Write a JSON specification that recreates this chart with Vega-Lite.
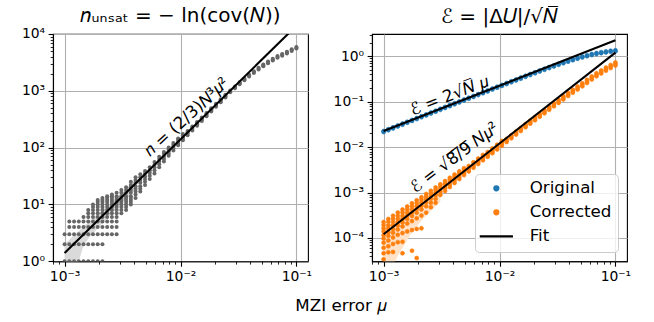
{
  "$schema": "https://vega.github.io/schema/vega-lite/v6.json",
  "padding": {"left": 20, "top": 5, "right": 0, "bottom": 0},
  "config": {
    "font": "DejaVu Sans",
    "view": {"stroke": "black", "strokeWidth": 1.1},
    "axis": {"domainColor": "black", "domainWidth": 1.1, "tickColor": "black", "labelColor": "black", "labelFont": "DejaVu Sans", "labelFontSize": 13.9, "labelPadding": 3.5, "labelFlush": false, "labelOverlap": false, "gridColor": "#b0b0b0", "gridWidth": 1.1},
    "title": {"font": "DejaVu Sans", "fontWeight": "normal", "color": "black"},
    "text": {"font": "DejaVu Sans", "color": "black"}
  },
  "title": {"text": "MZI error 𝜇", "orient": "bottom", "anchor": "middle", "frame": "group", "dx": 287.7, "fontSize": 16.7, "offset": 14},
  "spacing": 64,
  "bounds": "flush",
  "resolve": {"scale": {"color": "independent", "shape": "independent", "stroke": "independent"}, "legend": {"color": "independent", "shape": "independent", "stroke": "independent"}},
  "datasets": {
    "gray": [
      {"m":0.001,"v":1},{"m":0.001,"v":2},{"m":0.001,"v":3},
      {"m":0.0010985,"v":1},{"m":0.0010985,"v":2},{"m":0.0010985,"v":3},{"m":0.0010985,"v":4},{"m":0.0010985,"v":5},
      {"m":0.0012068,"v":1},{"m":0.0012068,"v":2},{"m":0.0012068,"v":3},{"m":0.0012068,"v":4},{"m":0.0012068,"v":5},
      {"m":0.0013257,"v":1},{"m":0.0013257,"v":2},{"m":0.0013257,"v":3},{"m":0.0013257,"v":4},{"m":0.0013257,"v":5},
      {"m":0.0014563,"v":1},{"m":0.0014563,"v":2},{"m":0.0014563,"v":3},{"m":0.0014563,"v":4},{"m":0.0014563,"v":5},{"m":0.0014563,"v":6},
      {"m":0.0016,"v":1},{"m":0.0016,"v":2},{"m":0.0016,"v":3},{"m":0.0016,"v":4},{"m":0.0016,"v":5},{"m":0.0016,"v":6},{"m":0.0016,"v":7},{"m":0.0016,"v":8},
      {"m":0.0017575,"v":1},{"m":0.0017575,"v":2},{"m":0.0017575,"v":3},{"m":0.0017575,"v":4},{"m":0.0017575,"v":5},{"m":0.0017575,"v":6},{"m":0.0017575,"v":7},{"m":0.0017575,"v":8},{"m":0.0017575,"v":9},{"m":0.0017575,"v":10},
      {"m":0.0019307,"v":1},{"m":0.0019307,"v":2},{"m":0.0019307,"v":3},{"m":0.0019307,"v":4},{"m":0.0019307,"v":5},{"m":0.0019307,"v":6},{"m":0.0019307,"v":7},{"m":0.0019307,"v":8},{"m":0.0019307,"v":9},{"m":0.0019307,"v":10},{"m":0.0019307,"v":11},{"m":0.0019307,"v":12},
      {"m":0.002121,"v":1},{"m":0.002121,"v":2},{"m":0.002121,"v":3},{"m":0.002121,"v":4},{"m":0.002121,"v":5},{"m":0.002121,"v":6},{"m":0.002121,"v":7},{"m":0.002121,"v":8},{"m":0.002121,"v":9},{"m":0.002121,"v":10},{"m":0.002121,"v":11},{"m":0.002121,"v":12},{"m":0.002121,"v":13},
      {"m":0.00233,"v":3},{"m":0.00233,"v":4},{"m":0.00233,"v":5},{"m":0.00233,"v":6},{"m":0.00233,"v":7},{"m":0.00233,"v":8},{"m":0.00233,"v":9},{"m":0.00233,"v":10},{"m":0.00233,"v":11},{"m":0.00233,"v":12},{"m":0.00233,"v":13},{"m":0.00233,"v":14},
      {"m":0.0025595,"v":3},{"m":0.0025595,"v":4},{"m":0.0025595,"v":5},{"m":0.0025595,"v":6},{"m":0.0025595,"v":7},{"m":0.0025595,"v":8},{"m":0.0025595,"v":9},{"m":0.0025595,"v":10},{"m":0.0025595,"v":11},{"m":0.0025595,"v":12},{"m":0.0025595,"v":13},{"m":0.0025595,"v":14},{"m":0.0025595,"v":15},
      {"m":0.0028118,"v":3},{"m":0.0028118,"v":4},{"m":0.0028118,"v":5},{"m":0.0028118,"v":6},{"m":0.0028118,"v":7},{"m":0.0028118,"v":8},{"m":0.0028118,"v":9},{"m":0.0028118,"v":10},{"m":0.0028118,"v":11},{"m":0.0028118,"v":12},{"m":0.0028118,"v":13},{"m":0.0028118,"v":14},{"m":0.0028118,"v":16},
      {"m":0.0030888,"v":7},{"m":0.0030888,"v":8},{"m":0.0030888,"v":9},{"m":0.0030888,"v":10},{"m":0.0030888,"v":11},{"m":0.0030888,"v":12},{"m":0.0030888,"v":13},{"m":0.0030888,"v":14},{"m":0.0030888,"v":16},{"m":0.0030888,"v":18},
      {"m":0.0033932,"v":8},{"m":0.0033932,"v":9},{"m":0.0033932,"v":10},{"m":0.0033932,"v":11},{"m":0.0033932,"v":12},{"m":0.0033932,"v":13},{"m":0.0033932,"v":14},{"m":0.0033932,"v":16},{"m":0.0033932,"v":18},{"m":0.0033932,"v":20},
      {"m":0.0037276,"v":10},{"m":0.0037276,"v":11},{"m":0.0037276,"v":12},{"m":0.0037276,"v":13},{"m":0.0037276,"v":14},{"m":0.0037276,"v":16},{"m":0.0037276,"v":18},{"m":0.0037276,"v":20},{"m":0.0037276,"v":22},{"m":0.0037276,"v":25},
      {"m":0.0040949,"v":13},{"m":0.0040949,"v":15},{"m":0.0040949,"v":17},{"m":0.0040949,"v":19},{"m":0.0040949,"v":21},{"m":0.0040949,"v":24},{"m":0.0040949,"v":27},{"m":0.0040949,"v":30},
      {"m":0.0044984,"v":17},{"m":0.0044984,"v":19},{"m":0.0044984,"v":21},{"m":0.0044984,"v":24},{"m":0.0044984,"v":27},{"m":0.0044984,"v":30},{"m":0.0044984,"v":34},
      {"m":0.0049417,"v":22},{"m":0.0049417,"v":25},{"m":0.0049417,"v":28},{"m":0.0049417,"v":31},{"m":0.0049417,"v":35},{"m":0.0049417,"v":39},
      {"m":0.0054287,"v":28},{"m":0.0054287,"v":32},{"m":0.0054287,"v":36},{"m":0.0054287,"v":40},{"m":0.0054287,"v":45},
      {"m":0.0059636,"v":35},{"m":0.0059636,"v":40},{"m":0.0059636,"v":45},{"m":0.0059636,"v":50},{"m":0.0059636,"v":56},
      {"m":0.0065513,"v":45},{"m":0.0065513,"v":51},{"m":0.0065513,"v":57},{"m":0.0065513,"v":63},{"m":0.0065513,"v":69},
      {"m":0.0071969,"v":57},{"m":0.0071969,"v":63},{"m":0.0071969,"v":70},{"m":0.0071969,"v":77},{"m":0.0071969,"v":84},
      {"m":0.007906,"v":72},{"m":0.007906,"v":79},{"m":0.007906,"v":86},{"m":0.007906,"v":94},{"m":0.007906,"v":101},
      {"m":0.0086851,"v":89},{"m":0.0086851,"v":97},{"m":0.0086851,"v":105},{"m":0.0086851,"v":113},{"m":0.0086851,"v":121},
      {"m":0.009541,"v":110},{"m":0.009541,"v":118},{"m":0.009541,"v":127},{"m":0.009541,"v":136},{"m":0.009541,"v":145},
      {"m":0.010481,"v":135},{"m":0.010481,"v":145},{"m":0.010481,"v":154},{"m":0.010481,"v":164},{"m":0.010481,"v":174},
      {"m":0.011514,"v":166},{"m":0.011514,"v":176},{"m":0.011514,"v":186},{"m":0.011514,"v":197},
      {"m":0.012649,"v":200},{"m":0.012649,"v":212},{"m":0.012649,"v":224},{"m":0.012649,"v":236},
      {"m":0.013895,"v":244},{"m":0.013895,"v":257},{"m":0.013895,"v":270},{"m":0.013895,"v":283},
      {"m":0.015264,"v":295},{"m":0.015264,"v":310},{"m":0.015264,"v":325},{"m":0.015264,"v":340},
      {"m":0.016768,"v":358},{"m":0.016768,"v":375},{"m":0.016768,"v":392},{"m":0.016768,"v":408},
      {"m":0.018421,"v":432},{"m":0.018421,"v":452},{"m":0.018421,"v":472},{"m":0.018421,"v":492},
      {"m":0.020236,"v":525},{"m":0.020236,"v":548},{"m":0.020236,"v":570},{"m":0.020236,"v":592},
      {"m":0.02223,"v":632},{"m":0.02223,"v":660},{"m":0.02223,"v":688},{"m":0.02223,"v":712},
      {"m":0.024421,"v":760},{"m":0.024421,"v":792},{"m":0.024421,"v":822},{"m":0.024421,"v":850},
      {"m":0.026827,"v":940},{"m":0.026827,"v":975},{"m":0.026827,"v":1010},
      {"m":0.029471,"v":1110},{"m":0.029471,"v":1150},{"m":0.029471,"v":1190},
      {"m":0.032375,"v":1310},{"m":0.032375,"v":1360},{"m":0.032375,"v":1410},
      {"m":0.035565,"v":1530},{"m":0.035565,"v":1590},{"m":0.035565,"v":1650},
      {"m":0.039069,"v":1790},{"m":0.039069,"v":1855},{"m":0.039069,"v":1920},
      {"m":0.042919,"v":2060},{"m":0.042919,"v":2135},{"m":0.042919,"v":2210},
      {"m":0.047149,"v":2370},{"m":0.047149,"v":2455},{"m":0.047149,"v":2540},
      {"m":0.051795,"v":2720},{"m":0.051795,"v":2810},{"m":0.051795,"v":2900},
      {"m":0.056899,"v":3060},{"m":0.056899,"v":3165},{"m":0.056899,"v":3270},
      {"m":0.062506,"v":3430},{"m":0.062506,"v":3550},{"m":0.062506,"v":3670},
      {"m":0.068665,"v":3820},{"m":0.068665,"v":3955},{"m":0.068665,"v":4090},
      {"m":0.075431,"v":4150},{"m":0.075431,"v":4295},{"m":0.075431,"v":4440},
      {"m":0.082864,"v":4550},{"m":0.082864,"v":4705},{"m":0.082864,"v":4860},
      {"m":0.09103,"v":5040},{"m":0.09103,"v":5210},{"m":0.09103,"v":5380},
      {"m":0.1,"v":5540},{"m":0.1,"v":5730},{"m":0.1,"v":5920}
    ],
    "bandL": [
      {"m":0.001,"v":0.5,"v2":2.0},{"m":0.0010985,"v":0.6,"v2":2.4},{"m":0.0012068,"v":0.8,"v2":2.9},{"m":0.0013257,"v":1.0,"v2":3.4},
      {"m":0.0014563,"v":1.9,"v2":4.0},{"m":0.0016,"v":2.5,"v2":4.8},{"m":0.0017575,"v":3.1,"v2":5.7},{"m":0.0019307,"v":3.8,"v2":6.8},
      {"m":0.002121,"v":4.7,"v2":8.0},{"m":0.00233,"v":5.7,"v2":9.4},{"m":0.0025595,"v":7.0,"v2":11.2},{"m":0.0028118,"v":8.6,"v2":13.3},
      {"m":0.0030888,"v":10.5,"v2":15.8},{"m":0.0033932,"v":12.8,"v2":19},{"m":0.0037276,"v":15.5,"v2":23},{"m":0.0040949,"v":19,"v2":28}
    ],
    "fitL": [{"m":0.001,"v":1.398},{"m":0.1,"v":13980}],
    "bandR": [
      {"m":0.001,"v":1.0e-5,"v2":1.6e-4},{"m":0.0010985,"v":1.5e-5,"v2":1.9e-4},{"m":0.0012068,"v":2.5e-5,"v2":2.3e-4},{"m":0.0013257,"v":4.0e-5,"v2":2.7e-4},
      {"m":0.0014563,"v":6.0e-5,"v2":3.2e-4},{"m":0.0016,"v":9.0e-5,"v2":3.8e-4},{"m":0.0017575,"v":1.3e-4,"v2":4.5e-4},{"m":0.0019307,"v":1.8e-4,"v2":5.4e-4},
      {"m":0.002121,"v":2.4e-4,"v2":6.5e-4},{"m":0.00233,"v":3.1e-4,"v2":7.8e-4},{"m":0.0025595,"v":4.0e-4,"v2":9.3e-4},{"m":0.0028118,"v":5.0e-4,"v2":1.1e-3},
      {"m":0.0030888,"v":6.3e-4,"v2":1.3e-3}
    ],
    "pts": [
      {"m":0.001,"v":0.0226,"s":"O"},{"m":0.001,"v":0.0215,"s":"O"},
      {"m":0.0010985,"v":0.0249,"s":"O"},{"m":0.0010985,"v":0.0236,"s":"O"},
      {"m":0.0012068,"v":0.0273,"s":"O"},{"m":0.0012068,"v":0.0259,"s":"O"},
      {"m":0.0013257,"v":0.03,"s":"O"},{"m":0.0013257,"v":0.0285,"s":"O"},
      {"m":0.0014563,"v":0.033,"s":"O"},{"m":0.0014563,"v":0.0313,"s":"O"},
      {"m":0.0016,"v":0.0362,"s":"O"},{"m":0.0016,"v":0.0344,"s":"O"},
      {"m":0.0017575,"v":0.0398,"s":"O"},{"m":0.0017575,"v":0.0378,"s":"O"},
      {"m":0.0019307,"v":0.0437,"s":"O"},{"m":0.0019307,"v":0.0415,"s":"O"},
      {"m":0.002121,"v":0.048,"s":"O"},{"m":0.002121,"v":0.0456,"s":"O"},
      {"m":0.00233,"v":0.0527,"s":"O"},{"m":0.00233,"v":0.0501,"s":"O"},
      {"m":0.0025595,"v":0.0579,"s":"O"},{"m":0.0025595,"v":0.055,"s":"O"},
      {"m":0.0028118,"v":0.0636,"s":"O"},{"m":0.0028118,"v":0.0604,"s":"O"},
      {"m":0.0030888,"v":0.0699,"s":"O"},{"m":0.0030888,"v":0.0664,"s":"O"},
      {"m":0.0033932,"v":0.0768,"s":"O"},{"m":0.0033932,"v":0.073,"s":"O"},
      {"m":0.0037276,"v":0.0844,"s":"O"},{"m":0.0037276,"v":0.0801,"s":"O"},
      {"m":0.0040949,"v":0.0927,"s":"O"},{"m":0.0040949,"v":0.088,"s":"O"},
      {"m":0.0044984,"v":0.1017,"s":"O"},{"m":0.0044984,"v":0.0966,"s":"O"},
      {"m":0.0049417,"v":0.1116,"s":"O"},{"m":0.0049417,"v":0.106,"s":"O"},
      {"m":0.0054287,"v":0.1226,"s":"O"},{"m":0.0054287,"v":0.1165,"s":"O"},
      {"m":0.0059636,"v":0.1347,"s":"O"},{"m":0.0059636,"v":0.128,"s":"O"},
      {"m":0.0065513,"v":0.1478,"s":"O"},{"m":0.0065513,"v":0.1404,"s":"O"},
      {"m":0.0071969,"v":0.1623,"s":"O"},{"m":0.0071969,"v":0.1542,"s":"O"},
      {"m":0.007906,"v":0.1782,"s":"O"},{"m":0.007906,"v":0.1693,"s":"O"},
      {"m":0.0086851,"v":0.1956,"s":"O"},{"m":0.0086851,"v":0.1858,"s":"O"},
      {"m":0.009541,"v":0.2147,"s":"O"},{"m":0.009541,"v":0.204,"s":"O"},
      {"m":0.010481,"v":0.2355,"s":"O"},{"m":0.010481,"v":0.2237,"s":"O"},
      {"m":0.011514,"v":0.2584,"s":"O"},{"m":0.011514,"v":0.2455,"s":"O"},
      {"m":0.012649,"v":0.2833,"s":"O"},{"m":0.012649,"v":0.2691,"s":"O"},
      {"m":0.013895,"v":0.3106,"s":"O"},{"m":0.013895,"v":0.2951,"s":"O"},
      {"m":0.015264,"v":0.3403,"s":"O"},{"m":0.015264,"v":0.3233,"s":"O"},
      {"m":0.016768,"v":0.3727,"s":"O"},{"m":0.016768,"v":0.3541,"s":"O"},
      {"m":0.018421,"v":0.408,"s":"O"},{"m":0.018421,"v":0.3876,"s":"O"},
      {"m":0.020236,"v":0.4462,"s":"O"},{"m":0.020236,"v":0.4239,"s":"O"},
      {"m":0.02223,"v":0.4876,"s":"O"},{"m":0.02223,"v":0.4632,"s":"O"},
      {"m":0.024421,"v":0.5322,"s":"O"},{"m":0.024421,"v":0.5056,"s":"O"},
      {"m":0.026827,"v":0.5802,"s":"O"},{"m":0.026827,"v":0.5512,"s":"O"},
      {"m":0.029471,"v":0.6315,"s":"O"},{"m":0.029471,"v":0.5999,"s":"O"},
      {"m":0.032375,"v":0.6861,"s":"O"},{"m":0.032375,"v":0.6518,"s":"O"},
      {"m":0.035565,"v":0.7438,"s":"O"},{"m":0.035565,"v":0.7066,"s":"O"},
      {"m":0.039069,"v":0.8045,"s":"O"},{"m":0.039069,"v":0.7643,"s":"O"},
      {"m":0.042919,"v":0.8676,"s":"O"},{"m":0.042919,"v":0.8242,"s":"O"},
      {"m":0.047149,"v":0.9318,"s":"O"},{"m":0.047149,"v":0.8852,"s":"O"},
      {"m":0.051795,"v":0.9969,"s":"O"},{"m":0.051795,"v":0.9471,"s":"O"},
      {"m":0.056899,"v":1.0617,"s":"O"},{"m":0.056899,"v":1.0086,"s":"O"},
      {"m":0.062506,"v":1.1246,"s":"O"},{"m":0.062506,"v":1.0684,"s":"O"},
      {"m":0.068665,"v":1.1841,"s":"O"},{"m":0.068665,"v":1.1249,"s":"O"},
      {"m":0.075431,"v":1.2388,"s":"O"},{"m":0.075431,"v":1.1769,"s":"O"},
      {"m":0.082864,"v":1.2868,"s":"O"},{"m":0.082864,"v":1.2225,"s":"O"},
      {"m":0.09103,"v":1.3269,"s":"O"},{"m":0.09103,"v":1.2606,"s":"O"},
      {"m":0.1,"v":1.3587,"s":"O"},{"m":0.1,"v":1.2908,"s":"O"},
      {"m":0.001,"v":2.23e-4,"s":"C"},{"m":0.001,"v":1.93e-4,"s":"C"},{"m":0.001,"v":1.63e-4,"s":"C"},{"m":0.001,"v":1.39e-4,"s":"C"},{"m":0.001,"v":1.15e-4,"s":"C"},{"m":0.001,"v":9.66e-5,"s":"C"},{"m":0.001,"v":7.85e-5,"s":"C"},{"m":0.001,"v":6.04e-5,"s":"C"},{"m":0.001,"v":4.59e-5,"s":"C"},{"m":0.001,"v":3.38e-5,"s":"C"},
      {"m":0.0010985,"v":2.62e-4,"s":"C"},{"m":0.0010985,"v":2.26e-4,"s":"C"},{"m":0.0010985,"v":1.89e-4,"s":"C"},{"m":0.0010985,"v":1.6e-4,"s":"C"},{"m":0.0010985,"v":1.34e-4,"s":"C"},{"m":0.0010985,"v":1.11e-4,"s":"C"},{"m":0.0010985,"v":8.74e-5,"s":"C"},{"m":0.0010985,"v":6.55e-5,"s":"C"},{"m":0.0010985,"v":4.81e-5,"s":"C"},
      {"m":0.0012068,"v":3.08e-4,"s":"C"},{"m":0.0012068,"v":2.64e-4,"s":"C"},{"m":0.0012068,"v":2.23e-4,"s":"C"},{"m":0.0012068,"v":1.88e-4,"s":"C"},{"m":0.0012068,"v":1.58e-4,"s":"C"},{"m":0.0012068,"v":1.3e-4,"s":"C"},{"m":0.0012068,"v":1.02e-4,"s":"C"},{"m":0.0012068,"v":7.38e-5,"s":"C"},{"m":0.0012068,"v":4.92e-5,"s":"C"},
      {"m":0.0013257,"v":3.61e-4,"s":"C"},{"m":0.0013257,"v":3.08e-4,"s":"C"},{"m":0.0013257,"v":2.63e-4,"s":"C"},{"m":0.0013257,"v":2.23e-4,"s":"C"},{"m":0.0013257,"v":1.87e-4,"s":"C"},{"m":0.0013257,"v":1.53e-4,"s":"C"},{"m":0.0013257,"v":1.17e-4,"s":"C"},{"m":0.0013257,"v":8.06e-5,"s":"C"},
      {"m":0.0014563,"v":4.22e-4,"s":"C"},{"m":0.0014563,"v":3.64e-4,"s":"C"},{"m":0.0014563,"v":3.07e-4,"s":"C"},{"m":0.0014563,"v":2.61e-4,"s":"C"},{"m":0.0014563,"v":2.2e-4,"s":"C"},{"m":0.0014563,"v":1.79e-4,"s":"C"},{"m":0.0014563,"v":1.28e-4,"s":"C"},{"m":0.0014563,"v":8.19e-5,"s":"C"},{"m":0.0014563,"v":4.61e-5,"s":"C"},
      {"m":0.0016,"v":4.94e-4,"s":"C"},{"m":0.0016,"v":4.26e-4,"s":"C"},{"m":0.0016,"v":3.65e-4,"s":"C"},{"m":0.0016,"v":3.09e-4,"s":"C"},{"m":0.0016,"v":2.6e-4,"s":"C"},{"m":0.0016,"v":2.07e-4,"s":"C"},{"m":0.0016,"v":1.39e-4,"s":"C"},
      {"m":0.0017575,"v":5.78e-4,"s":"C"},{"m":0.0017575,"v":5.0e-4,"s":"C"},{"m":0.0017575,"v":4.29e-4,"s":"C"},{"m":0.0017575,"v":3.65e-4,"s":"C"},{"m":0.0017575,"v":3.06e-4,"s":"C"},{"m":0.0017575,"v":2.35e-4,"s":"C"},{"m":0.0017575,"v":1.49e-4,"s":"C"},{"m":0.0017575,"v":5.22e-5,"s":"C"},
      {"m":0.0019307,"v":6.75e-4,"s":"C"},{"m":0.0019307,"v":5.85e-4,"s":"C"},{"m":0.0019307,"v":5.04e-4,"s":"C"},{"m":0.0019307,"v":4.32e-4,"s":"C"},{"m":0.0019307,"v":3.6e-4,"s":"C"},{"m":0.0019307,"v":2.7e-4,"s":"C"},{"m":0.0019307,"v":1.58e-4,"s":"C"},{"m":0.0019307,"v":3.6e-5,"s":"C"},
      {"m":0.002121,"v":7.87e-4,"s":"C"},{"m":0.002121,"v":6.9e-4,"s":"C"},{"m":0.002121,"v":5.97e-4,"s":"C"},{"m":0.002121,"v":5.1e-4,"s":"C"},{"m":0.002121,"v":4.24e-4,"s":"C"},{"m":0.002121,"v":3.1e-4,"s":"C"},{"m":0.002121,"v":1.63e-4,"s":"C"},
      {"m":0.00233,"v":9.31e-4,"s":"C"},{"m":0.00233,"v":8.13e-4,"s":"C"},{"m":0.00233,"v":7.08e-4,"s":"C"},{"m":0.00233,"v":6.09e-4,"s":"C"},{"m":0.00233,"v":4.98e-4,"s":"C"},{"m":0.00233,"v":3.6e-4,"s":"C"},
      {"m":0.0025595,"v":1.09e-3,"s":"C"},{"m":0.0025595,"v":9.65e-4,"s":"C"},{"m":0.0025595,"v":8.38e-4,"s":"C"},{"m":0.0025595,"v":7.28e-4,"s":"C"},{"m":0.0025595,"v":5.93e-4,"s":"C"},{"m":0.0025595,"v":4.74e-4,"s":"C"},
      {"m":0.0028118,"v":1.29e-3,"s":"C"},{"m":0.0028118,"v":1.15e-3,"s":"C"},{"m":0.0028118,"v":1.0e-3,"s":"C"},{"m":0.0028118,"v":8.68e-4,"s":"C"},{"m":0.0028118,"v":7.25e-4,"s":"C"},{"m":0.0028118,"v":5.92e-4,"s":"C"},
      {"m":0.0030888,"v":1.52e-3,"s":"C"},{"m":0.0030888,"v":1.36e-3,"s":"C"},{"m":0.0030888,"v":1.2e-3,"s":"C"},{"m":0.0030888,"v":1.04e-3,"s":"C"},{"m":0.0030888,"v":8.87e-4,"s":"C"},
      {"m":0.0033932,"v":1.79e-3,"s":"C"},{"m":0.0033932,"v":1.61e-3,"s":"C"},{"m":0.0033932,"v":1.43e-3,"s":"C"},{"m":0.0033932,"v":1.25e-3,"s":"C"},{"m":0.0033932,"v":1.08e-3,"s":"C"},
      {"m":0.0037276,"v":2.11e-3,"s":"C"},{"m":0.0037276,"v":1.91e-3,"s":"C"},{"m":0.0037276,"v":1.71e-3,"s":"C"},{"m":0.0037276,"v":1.51e-3,"s":"C"},{"m":0.0037276,"v":1.32e-3,"s":"C"},
      {"m":0.0040949,"v":2.49e-3,"s":"C"},{"m":0.0040949,"v":2.27e-3,"s":"C"},{"m":0.0040949,"v":2.04e-3,"s":"C"},{"m":0.0040949,"v":1.82e-3,"s":"C"},{"m":0.0040949,"v":1.62e-3,"s":"C"},
      {"m":0.0044984,"v":2.93e-3,"s":"C"},{"m":0.0044984,"v":2.69e-3,"s":"C"},{"m":0.0044984,"v":2.44e-3,"s":"C"},{"m":0.0044984,"v":2.2e-3,"s":"C"},{"m":0.0044984,"v":1.98e-3,"s":"C"},
      {"m":0.0049417,"v":3.45e-3,"s":"C"},{"m":0.0049417,"v":3.18e-3,"s":"C"},{"m":0.0049417,"v":2.92e-3,"s":"C"},{"m":0.0049417,"v":2.65e-3,"s":"C"},{"m":0.0049417,"v":2.42e-3,"s":"C"},
      {"m":0.0054287,"v":3.84e-3,"s":"C"},{"m":0.0054287,"v":3.49e-3,"s":"C"},{"m":0.0054287,"v":3.2e-3,"s":"C"},{"m":0.0054287,"v":2.92e-3,"s":"C"},
      {"m":0.0059636,"v":4.64e-3,"s":"C"},{"m":0.0059636,"v":4.21e-3,"s":"C"},{"m":0.0059636,"v":3.86e-3,"s":"C"},{"m":0.0059636,"v":3.52e-3,"s":"C"},
      {"m":0.0065513,"v":5.6e-3,"s":"C"},{"m":0.0065513,"v":5.08e-3,"s":"C"},{"m":0.0065513,"v":4.66e-3,"s":"C"},{"m":0.0065513,"v":4.25e-3,"s":"C"},
      {"m":0.0071969,"v":6.75e-3,"s":"C"},{"m":0.0071969,"v":6.13e-3,"s":"C"},{"m":0.0071969,"v":5.63e-3,"s":"C"},{"m":0.0071969,"v":5.13e-3,"s":"C"},
      {"m":0.007906,"v":7.77e-3,"s":"C"},{"m":0.007906,"v":7.17e-3,"s":"C"},{"m":0.007906,"v":6.64e-3,"s":"C"},{"m":0.007906,"v":6.11e-3,"s":"C"},
      {"m":0.0086851,"v":9.38e-3,"s":"C"},{"m":0.0086851,"v":8.65e-3,"s":"C"},{"m":0.0086851,"v":8.01e-3,"s":"C"},{"m":0.0086851,"v":7.38e-3,"s":"C"},
      {"m":0.009541,"v":0.01132,"s":"C"},{"m":0.009541,"v":0.01044,"s":"C"},{"m":0.009541,"v":0.00967,"s":"C"},{"m":0.009541,"v":0.0089,"s":"C"},
      {"m":0.010481,"v":0.01366,"s":"C"},{"m":0.010481,"v":0.0126,"s":"C"},{"m":0.010481,"v":0.01167,"s":"C"},{"m":0.010481,"v":0.01074,"s":"C"},
      {"m":0.011514,"v":0.01512,"s":"C"},{"m":0.011514,"v":0.01397,"s":"C"},{"m":0.011514,"v":0.01296,"s":"C"},
      {"m":0.012649,"v":0.01825,"s":"C"},{"m":0.012649,"v":0.01686,"s":"C"},{"m":0.012649,"v":0.01564,"s":"C"},
      {"m":0.013895,"v":0.02202,"s":"C"},{"m":0.013895,"v":0.02034,"s":"C"},{"m":0.013895,"v":0.01888,"s":"C"},
      {"m":0.015264,"v":0.02658,"s":"C"},{"m":0.015264,"v":0.02455,"s":"C"},{"m":0.015264,"v":0.02278,"s":"C"},
      {"m":0.016768,"v":0.03207,"s":"C"},{"m":0.016768,"v":0.02963,"s":"C"},{"m":0.016768,"v":0.02749,"s":"C"},
      {"m":0.018421,"v":0.03827,"s":"C"},{"m":0.018421,"v":0.03536,"s":"C"},{"m":0.018421,"v":0.03281,"s":"C"},
      {"m":0.020236,"v":0.04567,"s":"C"},{"m":0.020236,"v":0.04219,"s":"C"},{"m":0.020236,"v":0.03915,"s":"C"},
      {"m":0.02223,"v":0.05449,"s":"C"},{"m":0.02223,"v":0.05034,"s":"C"},{"m":0.02223,"v":0.0467,"s":"C"},
      {"m":0.024421,"v":0.065,"s":"C"},{"m":0.024421,"v":0.06005,"s":"C"},{"m":0.024421,"v":0.05572,"s":"C"},
      {"m":0.026827,"v":0.07753,"s":"C"},{"m":0.026827,"v":0.07162,"s":"C"},{"m":0.026827,"v":0.06645,"s":"C"},
      {"m":0.029471,"v":0.09246,"s":"C"},{"m":0.029471,"v":0.08542,"s":"C"},{"m":0.029471,"v":0.07925,"s":"C"},
      {"m":0.032375,"v":0.1103,"s":"C"},{"m":0.032375,"v":0.1019,"s":"C"},{"m":0.032375,"v":0.0945,"s":"C"},
      {"m":0.035565,"v":0.1315,"s":"C"},{"m":0.035565,"v":0.1214,"s":"C"},{"m":0.035565,"v":0.1127,"s":"C"},
      {"m":0.039069,"v":0.1567,"s":"C"},{"m":0.039069,"v":0.1448,"s":"C"},{"m":0.039069,"v":0.1343,"s":"C"},
      {"m":0.042919,"v":0.1844,"s":"C"},{"m":0.042919,"v":0.1704,"s":"C"},{"m":0.042919,"v":0.1581,"s":"C"},
      {"m":0.047149,"v":0.2169,"s":"C"},{"m":0.047149,"v":0.2004,"s":"C"},{"m":0.047149,"v":0.186,"s":"C"},
      {"m":0.051795,"v":0.255,"s":"C"},{"m":0.051795,"v":0.2356,"s":"C"},{"m":0.051795,"v":0.2186,"s":"C"},
      {"m":0.056899,"v":0.3036,"s":"C"},{"m":0.056899,"v":0.2805,"s":"C"},{"m":0.056899,"v":0.2603,"s":"C"},
      {"m":0.062506,"v":0.3615,"s":"C"},{"m":0.062506,"v":0.3339,"s":"C"},{"m":0.062506,"v":0.3098,"s":"C"},
      {"m":0.068665,"v":0.4243,"s":"C"},{"m":0.068665,"v":0.3919,"s":"C"},{"m":0.068665,"v":0.3637,"s":"C"},
      {"m":0.075431,"v":0.4904,"s":"C"},{"m":0.075431,"v":0.453,"s":"C"},{"m":0.075431,"v":0.4203,"s":"C"},
      {"m":0.082864,"v":0.5656,"s":"C"},{"m":0.082864,"v":0.5225,"s":"C"},{"m":0.082864,"v":0.4848,"s":"C"},
      {"m":0.09103,"v":0.6459,"s":"C"},{"m":0.09103,"v":0.5967,"s":"C"},{"m":0.09103,"v":0.5536,"s":"C"},
      {"m":0.1,"v":0.7351,"s":"C"},{"m":0.1,"v":0.6791,"s":"C"},{"m":0.1,"v":0.6301,"s":"C"}
    ],
    "fitR": [
      {"m":0.001,"v":0.02263,"g":"a"},{"m":0.1,"v":2.263,"g":"a"},
      {"m":0.001,"v":1.207e-4,"g":"b"},{"m":0.1,"v":1.207,"g":"b"}
    ]
  },
  "hconcat": [
    {
      "width": 255,
      "height": 227.3,
      "title": {"text": "𝑛ᵤₙₛₐₜ = − ln(cov(𝑁))", "fontSize": 20, "offset": 1},
      "encoding": {
        "x": {"field": "m", "type": "quantitative", "scale": {"type": "log", "domain": [0.00079433, 0.12589], "nice": false},
          "axis": {"title": null, "values": [0.0008,0.0009,0.001,0.002,0.003,0.004,0.005,0.006,0.007,0.008,0.009,0.01,0.02,0.03,0.04,0.05,0.06,0.07,0.08,0.09,0.1],
            "labelExpr": "abs(log(datum.value)/LN10-round(log(datum.value)/LN10))<0.001 ? '10'+(round(log(datum.value)/LN10)<0?'⁻':'')+['⁰','¹','²','³','⁴','⁵'][abs(round(log(datum.value)/LN10))] : ''",
            "gridOpacity": {"condition": {"test": "abs(log(datum.value)/LN10-round(log(datum.value)/LN10))<0.001", "value": 1}, "value": 0},
            "tickSize": {"condition": {"test": "abs(log(datum.value)/LN10-round(log(datum.value)/LN10))<0.001", "value": 4.9}, "value": 2.8},
            "tickWidth": {"condition": {"test": "abs(log(datum.value)/LN10-round(log(datum.value)/LN10))<0.001", "value": 1.1}, "value": 0.85}}},
        "y": {"field": "v", "type": "quantitative", "scale": {"type": "log", "domain": [1, 10000], "nice": false},
          "axis": {"title": null, "values": [1,2,3,4,5,6,7,8,9,10,20,30,40,50,60,70,80,90,100,200,300,400,500,600,700,800,900,1000,2000,3000,4000,5000,6000,7000,8000,9000,10000],
            "labelExpr": "abs(log(datum.value)/LN10-round(log(datum.value)/LN10))<0.001 ? '10'+(round(log(datum.value)/LN10)<0?'⁻':'')+['⁰','¹','²','³','⁴','⁵'][abs(round(log(datum.value)/LN10))] : ''",
            "gridOpacity": {"condition": {"test": "abs(log(datum.value)/LN10-round(log(datum.value)/LN10))<0.001", "value": 1}, "value": 0},
            "tickSize": {"condition": {"test": "abs(log(datum.value)/LN10-round(log(datum.value)/LN10))<0.001", "value": 4.9}, "value": 2.8},
            "tickWidth": {"condition": {"test": "abs(log(datum.value)/LN10-round(log(datum.value)/LN10))<0.001", "value": 1.1}, "value": 0.85}}}
      },
      "layer": [
        {"data": {"name": "bandL"}, "mark": {"type": "area", "color": "#dadada", "opacity": 1, "clip": true}, "encoding": {"y2": {"field": "v2"}}},
        {"data": {"name": "gray"}, "mark": {"type": "circle", "color": "#666666", "opacity": 1, "size": 16, "clip": true}},
        {"data": {"name": "fitL"}, "mark": {"type": "line", "color": "black", "strokeWidth": 2.1, "clip": true}, "encoding": {}},
        {"data": {"values": [{"m": 0.01133, "v": 343, "t": "𝑛 = (2/3)𝑁³𝜇²"}]}, "mark": {"type": "text", "angle": 317.5, "fontSize": 16.7, "align": "center", "baseline": "middle"}, "encoding": {"text": {"field": "t"}}}
      ]
    },
    {
      "width": 255,
      "height": 227.3,
      "title": {"text": "ℰ = |Δ𝑈|/√𝑁̅", "fontSize": 20, "offset": 1},
      "encoding": {
        "x": {"field": "m", "type": "quantitative", "scale": {"type": "log", "domain": [0.00079433, 0.12589], "nice": false},
          "axis": {"title": null, "values": [0.0008,0.0009,0.001,0.002,0.003,0.004,0.005,0.006,0.007,0.008,0.009,0.01,0.02,0.03,0.04,0.05,0.06,0.07,0.08,0.09,0.1],
            "labelExpr": "abs(log(datum.value)/LN10-round(log(datum.value)/LN10))<0.001 ? '10'+(round(log(datum.value)/LN10)<0?'⁻':'')+['⁰','¹','²','³','⁴','⁵'][abs(round(log(datum.value)/LN10))] : ''",
            "gridOpacity": {"condition": {"test": "abs(log(datum.value)/LN10-round(log(datum.value)/LN10))<0.001", "value": 1}, "value": 0},
            "tickSize": {"condition": {"test": "abs(log(datum.value)/LN10-round(log(datum.value)/LN10))<0.001", "value": 4.9}, "value": 2.8},
            "tickWidth": {"condition": {"test": "abs(log(datum.value)/LN10-round(log(datum.value)/LN10))<0.001", "value": 1.1}, "value": 0.85}}},
        "y": {"field": "v", "type": "quantitative", "scale": {"type": "log", "domain": [3.055e-5, 3.112], "nice": false},
          "axis": {"title": null, "values": [4e-5,5e-5,6e-5,7e-5,8e-5,9e-5,1e-4,2e-4,3e-4,4e-4,5e-4,6e-4,7e-4,8e-4,9e-4,0.001,0.002,0.003,0.004,0.005,0.006,0.007,0.008,0.009,0.01,0.02,0.03,0.04,0.05,0.06,0.07,0.08,0.09,0.1,0.2,0.3,0.4,0.5,0.6,0.7,0.8,0.9,1,2,3],
            "labelExpr": "abs(log(datum.value)/LN10-round(log(datum.value)/LN10))<0.001 ? '10'+(round(log(datum.value)/LN10)<0?'⁻':'')+['⁰','¹','²','³','⁴','⁵'][abs(round(log(datum.value)/LN10))] : ''",
            "gridOpacity": {"condition": {"test": "abs(log(datum.value)/LN10-round(log(datum.value)/LN10))<0.001", "value": 1}, "value": 0},
            "tickSize": {"condition": {"test": "abs(log(datum.value)/LN10-round(log(datum.value)/LN10))<0.001", "value": 4.9}, "value": 2.8},
            "tickWidth": {"condition": {"test": "abs(log(datum.value)/LN10-round(log(datum.value)/LN10))<0.001", "value": 1.1}, "value": 0.85}}}
      },
      "layer": [
        {"data": {"name": "bandR"}, "mark": {"type": "area", "color": "#ffe2c8", "opacity": 1, "clip": true}, "encoding": {"y2": {"field": "v2"}}},
        {"data": {"name": "pts"}, "mark": {"type": "point", "filled": true, "size": 16, "strokeWidth": 0.6, "opacity": 1, "clip": true},
          "encoding": {
            "color": {"field": "s", "type": "nominal", "scale": {"domain": ["O", "C", "F"], "range": ["#1f77b4", "#ff7f0e", "#000000"]},
              "legend": {"title": null, "orient": "bottom-right", "offset": 9, "padding": 6, "rowPadding": 6, "symbolSize": 16, "symbolStrokeWidth": 2.2, "symbolOffset": 7, "labelOffset": 25,
                "labelFontSize": 16.7, "labelFont": "DejaVu Sans", "labelColor": "black",
                "labelExpr": "datum.label == 'O' ? 'Original' : datum.label == 'C' ? 'Corrected' : 'Fit'",
                "fillColor": "rgba(255,255,255,0.8)", "strokeColor": "#cccccc", "cornerRadius": 4}},
            "stroke": {"field": "s", "type": "nominal", "scale": {"domain": ["O", "C", "F"], "range": ["#1f77b4", "#ff7f0e", "#000000"]},
              "legend": {"title": null, "orient": "bottom-right", "offset": 9, "padding": 6, "rowPadding": 6, "symbolSize": 16, "symbolStrokeWidth": 2.2, "symbolOffset": 7, "labelOffset": 25,
                "labelFontSize": 16.7, "labelFont": "DejaVu Sans", "labelColor": "black",
                "labelExpr": "datum.label == 'O' ? 'Original' : datum.label == 'C' ? 'Corrected' : 'Fit'",
                "fillColor": "rgba(255,255,255,0.8)", "strokeColor": "#cccccc", "cornerRadius": 4}},
            "shape": {"field": "s", "type": "nominal", "scale": {"domain": ["O", "C", "F"], "range": ["circle", "circle", "M-8.3,0H8.3"]},
              "legend": {"title": null, "orient": "bottom-right", "offset": 9, "padding": 6, "rowPadding": 6, "symbolSize": 16, "symbolStrokeWidth": 2.2, "symbolOffset": 7, "labelOffset": 25,
                "labelFontSize": 16.7, "labelFont": "DejaVu Sans", "labelColor": "black",
                "labelExpr": "datum.label == 'O' ? 'Original' : datum.label == 'C' ? 'Corrected' : 'Fit'",
                "fillColor": "rgba(255,255,255,0.8)", "strokeColor": "#cccccc", "cornerRadius": 4}}
          }},
        {"data": {"name": "fitR"}, "mark": {"type": "line", "color": "black", "strokeWidth": 2.1, "clip": true}, "encoding": {"detail": {"field": "g"}}},
        {"data": {"values": [{"m": 0.0037, "v": 0.133, "t": "ℰ = 2√𝑁̅ 𝜇"}]}, "mark": {"type": "text", "angle": 339, "fontSize": 16.7, "align": "center", "baseline": "middle"}, "encoding": {"text": {"field": "t"}}},
        {"data": {"values": [{"m": 0.00409, "v": 0.00584, "t": "ℰ = √8̅/̅9̅ 𝑁𝜇²"}]}, "mark": {"type": "text", "angle": 323, "fontSize": 16.7, "align": "center", "baseline": "middle"}, "encoding": {"text": {"field": "t"}}}
      ]
    }
  ]
}
